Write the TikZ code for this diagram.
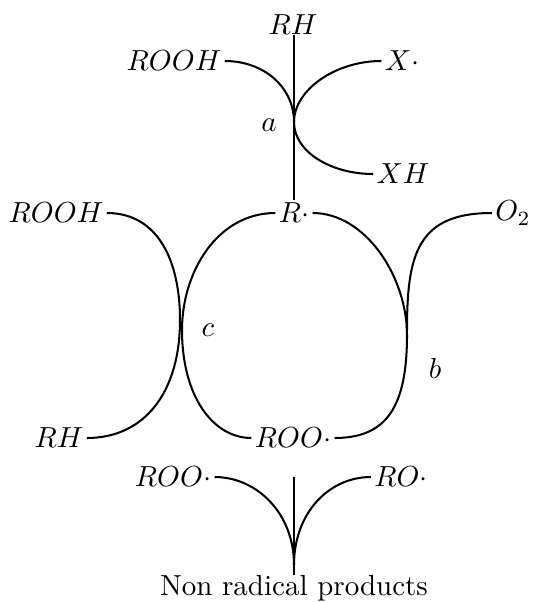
\documentclass[tikz,border=0pt]{standalone}
\usetikzlibrary{calc}
\begin{document}
\begin{tikzpicture}[x=0.3448pt,y=-0.3448pt,
  lbl/.style={inner sep=1pt},
  conn/.style={line width=0.7pt}]
\useasboundingbox (0,0) rectangle (533,603);
% labels
\node[lbl] (rh1) at (293,25) {$RH$};
\node[lbl] (rooh1) at (174,61) {$ROOH$};
\node[lbl] (x1) at (402,61) {$X\cdot$};
\node[lbl] (xh) at (403,174) {$XH$};
\node[lbl] (la) at (269,125) {$a$};
\node[lbl] (rooh2) at (56,213) {$ROOH$};
\node[lbl] (r) at (294,213) {$R\cdot$};
\node[lbl] (o2) at (513,213) {$O_2$};
\node[lbl] (rh2) at (59,438) {$RH$};
\node[lbl] (roo1) at (293,438) {$ROO\cdot$};
\node[lbl] (lc) at (208,330) {$c$};
\node[lbl] (lb) at (435,368) {$b$};
\node[lbl] (roo2) at (173,477) {$ROO\cdot$};
\node[lbl] (ro) at (401,477) {$RO\cdot$};
\node[inner sep=0pt] (nrp) at (294,588) {Non radical products};
% tangent points
\coordinate (ta) at (294,122);
\coordinate (tc1) at (180,320);
\coordinate (tc2) at (182,330);
\coordinate (trb) at (407,335);
\coordinate (to2) at (407,330);
\coordinate (tbot) at (294,565);
\coordinate (btop) at (294,477);
% reaction a
\draw[conn] (r.north |- rh1.base) -- (r.north);
\draw[conn] (rooh1.east) .. controls +(40,0) and +(0,-34) .. (ta);
\draw[conn] (x1.west) .. controls +(-46,0) and +(0,-32) .. (ta);
\draw[conn] (ta) .. controls +(0,30) and +(-42,0) .. (xh.west);
% reaction c
\draw[conn] (rooh2.east) .. controls +(52,0) and +(0,-58) .. (tc1);
\draw[conn] (tc1) .. controls +(0,72) and +(58,0) .. (rh2.east);
\draw[conn] (r.west) .. controls +(-58,0) and +(0,-58) .. (tc2);
\draw[conn] (tc2) .. controls +(0,67) and +(-38,0) .. (roo1.west);
% reaction b
\draw[conn] (r.east) .. controls +(53,0) and +(0,-58) .. (trb);
\draw[conn] (trb) .. controls +(0,72) and +(52,0) .. (roo1.east);
\draw[conn] (o2.west) .. controls +(-75,0) and +(0,-75) .. (to2);
% termination
\draw[conn] (roo2.east) .. controls +(42,0) and +(0,-52) .. (tbot);
\draw[conn] (ro.west) .. controls +(-42,0) and +(0,-52) .. (tbot);
\draw[conn] (btop) -- (nrp.north);
\end{tikzpicture}
\end{document}
